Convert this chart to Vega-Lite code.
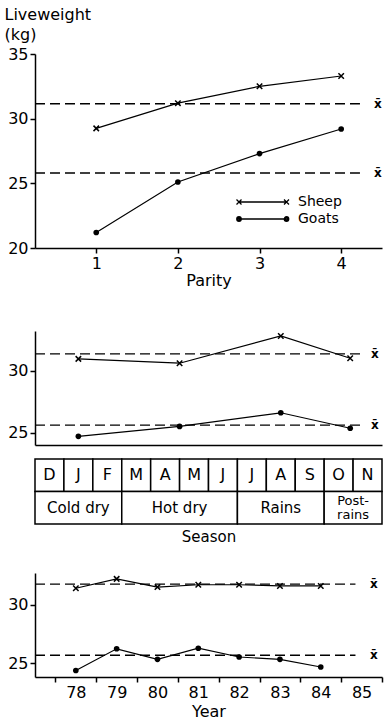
{
  "$schema": "https://vega.github.io/schema/vega-lite/v6.json",
  "padding": {"left": 4, "top": 6, "right": 8, "bottom": 4},
  "background": "white",
  "config": {
    "view": {"stroke": null},
    "font": "DejaVu Sans",
    "axis": {"domainColor": "black", "tickColor": "black", "labelColor": "black", "titleColor": "black", "labelFont": "DejaVu Sans", "titleFont": "DejaVu Sans", "labelFontSize": 16, "titleFontSize": 16, "titleFontWeight": "normal", "grid": false, "domainWidth": 1.5, "tickWidth": 1.5, "tickSize": 5, "labelPadding": 2},
    "legend": {"labelFont": "DejaVu Sans", "labelColor": "black"}
  },
  "datasets": {
    "parity": [
      {"species": "Sheep", "parity": 1, "weight": 29.25},
      {"species": "Sheep", "parity": 2, "weight": 31.2},
      {"species": "Sheep", "parity": 3, "weight": 32.5},
      {"species": "Sheep", "parity": 4, "weight": 33.3},
      {"species": "Goats", "parity": 1, "weight": 21.2},
      {"species": "Goats", "parity": 2, "weight": 25.1},
      {"species": "Goats", "parity": 3, "weight": 27.3},
      {"species": "Goats", "parity": 4, "weight": 29.2}
    ],
    "parityMean": [
      {"species": "Sheep", "mean": 31.15, "label": "x̄"},
      {"species": "Goats", "mean": 25.8, "label": "x̄"}
    ],
    "season": [
      {"species": "Sheep", "season": "Cold dry", "pos": 1.5, "weight": 30.95},
      {"species": "Sheep", "season": "Hot dry", "pos": 5, "weight": 30.6},
      {"species": "Sheep", "season": "Rains", "pos": 8.5, "weight": 32.8},
      {"species": "Sheep", "season": "Post-rains", "pos": 10.9, "weight": 31.0},
      {"species": "Goats", "season": "Cold dry", "pos": 1.5, "weight": 24.7},
      {"species": "Goats", "season": "Hot dry", "pos": 5, "weight": 25.5},
      {"species": "Goats", "season": "Rains", "pos": 8.5, "weight": 26.6},
      {"species": "Goats", "season": "Post-rains", "pos": 10.9, "weight": 25.35}
    ],
    "seasonMean": [
      {"species": "Sheep", "mean": 31.35, "label": "x̄"},
      {"species": "Goats", "mean": 25.6, "label": "x̄"}
    ],
    "year": [
      {"species": "Sheep", "year": 78, "weight": 31.4},
      {"species": "Sheep", "year": 79, "weight": 32.2},
      {"species": "Sheep", "year": 80, "weight": 31.5},
      {"species": "Sheep", "year": 81, "weight": 31.7},
      {"species": "Sheep", "year": 82, "weight": 31.7},
      {"species": "Sheep", "year": 83, "weight": 31.6},
      {"species": "Sheep", "year": 84, "weight": 31.6},
      {"species": "Goats", "year": 78, "weight": 24.4},
      {"species": "Goats", "year": 79, "weight": 26.25},
      {"species": "Goats", "year": 80, "weight": 25.35},
      {"species": "Goats", "year": 81, "weight": 26.3},
      {"species": "Goats", "year": 82, "weight": 25.55},
      {"species": "Goats", "year": 83, "weight": 25.35},
      {"species": "Goats", "year": 84, "weight": 24.7}
    ],
    "yearMean": [
      {"species": "Sheep", "mean": 31.75, "label": "x̄"},
      {"species": "Goats", "mean": 25.7, "label": "x̄"}
    ],
    "months": [
      {"row": "Month", "label": "D", "start": 0, "end": 1, "mid": 0.5},
      {"row": "Month", "label": "J", "start": 1, "end": 2, "mid": 1.5},
      {"row": "Month", "label": "F", "start": 2, "end": 3, "mid": 2.5},
      {"row": "Month", "label": "M", "start": 3, "end": 4, "mid": 3.5},
      {"row": "Month", "label": "A", "start": 4, "end": 5, "mid": 4.5},
      {"row": "Month", "label": "M", "start": 5, "end": 6, "mid": 5.5},
      {"row": "Month", "label": "J", "start": 6, "end": 7, "mid": 6.5},
      {"row": "Month", "label": "J", "start": 7, "end": 8, "mid": 7.5},
      {"row": "Month", "label": "A", "start": 8, "end": 9, "mid": 8.5},
      {"row": "Month", "label": "S", "start": 9, "end": 10, "mid": 9.5},
      {"row": "Month", "label": "O", "start": 10, "end": 11, "mid": 10.5},
      {"row": "Month", "label": "N", "start": 11, "end": 12, "mid": 11.5}
    ],
    "seasons": [
      {"row": "Season", "label": "Cold dry", "start": 0, "end": 3, "mid": 1.5},
      {"row": "Season", "label": "Hot dry", "start": 3, "end": 7, "mid": 5},
      {"row": "Season", "label": "Rains", "start": 7, "end": 10, "mid": 8.5},
      {"row": "Season", "label": "Post-\nrains", "start": 10, "end": 12, "mid": 11}
    ]
  },
  "spacing": 13,
  "resolve": {"scale": {"shape": "independent"}, "legend": {"shape": "independent"}},
  "vconcat": [
    {
      "width": 347,
      "height": 194,
      "layer": [
        {
          "data": {"name": "parity"},
          "mark": {"type": "line", "color": "black", "strokeWidth": 1.2},
          "encoding": {
            "x": {"field": "parity", "type": "quantitative", "scale": {"domain": [0.25, 4.5], "nice": false}, "axis": {"values": [1, 2, 3, 4], "format": "d", "title": "Parity", "titlePadding": 1, "labelPadding": 2}},
            "y": {"field": "weight", "type": "quantitative", "scale": {"domain": [20, 35], "nice": false, "zero": false}, "axis": {"values": [20, 25, 30, 35], "title": ["Liveweight", "  (kg)"], "titleAngle": 0, "titleAlign": "left", "titleBaseline": "top", "titleX": -31, "titleY": -48, "titleLineHeight": 20}},
            "detail": {"field": "species"}
          }
        },
        {
          "data": {"name": "parityMean"},
          "mark": {"type": "rule", "strokeDash": [10, 5], "strokeWidth": 1.4, "color": "black"},
          "encoding": {
            "y": {"field": "mean", "type": "quantitative"},
            "x": {"datum": 0.25, "type": "quantitative"},
            "x2": {"datum": 4.23}
          }
        },
        {
          "data": {"name": "parityMean"},
          "mark": {"type": "text", "fontSize": 12, "fontWeight": "bold", "color": "black", "align": "center", "baseline": "middle"},
          "encoding": {
            "y": {"field": "mean", "type": "quantitative"},
            "x": {"datum": 4.45, "type": "quantitative"},
            "text": {"field": "label"}
          }
        },
        {
          "data": {"name": "parity"},
          "transform": [{"filter": "datum.species === 'Sheep'"}],
          "mark": {"type": "point", "shape": "M-1,-1L1,1M-1,1L1,-1", "filled": false, "color": "black", "strokeWidth": 1.5, "size": 30, "opacity": 1},
          "encoding": {
            "x": {"field": "parity", "type": "quantitative"},
            "y": {"field": "weight", "type": "quantitative"}
          }
        },
        {
          "data": {"name": "parity"},
          "transform": [{"filter": "datum.species === 'Goats'"}],
          "mark": {"type": "point", "shape": "circle", "filled": true, "color": "black", "size": 32, "opacity": 1},
          "encoding": {
            "x": {"field": "parity", "type": "quantitative"},
            "y": {"field": "weight", "type": "quantitative"}
          }
        },
        {
          "data": {"name": "parity"},
          "transform": [{"filter": "datum.weight < 0"}],
          "mark": {"type": "point", "filled": false, "color": "black", "strokeWidth": 1.3, "size": 100, "opacity": 1},
          "encoding": {
            "x": {"field": "parity", "type": "quantitative"},
            "y": {"field": "weight", "type": "quantitative"},
            "shape": {
              "field": "species", "type": "nominal",
              "scale": {"domain": ["Sheep", "Goats"], "range": ["M-9,0L0.5,0M-9.5,-0.5L-8.5,0.5M-9.5,0.5L-8.5,-0.5M0,-0.5L1,0.5M0,0.5L1,-0.5", "M-9,0L0.5,0M-9.45,0A0.45,0.45 0 1,0 -8.55,0A0.45,0.45 0 1,0 -9.45,0ZM-9.2,0A0.2,0.2 0 1,0 -8.8,0A0.2,0.2 0 1,0 -9.2,0ZM0.05,0A0.45,0.45 0 1,0 0.95,0A0.45,0.45 0 1,0 0.05,0ZM0.3,0A0.2,0.2 0 1,0 0.7,0A0.2,0.2 0 1,0 0.3,0Z"]},
              "legend": {
                "title": null, "orient": "none", "legendX": 242, "legendY": 141, "padding": 0,
                "symbolSize": 100, "symbolStrokeWidth": 1.3, "symbolFillColor": "black", "symbolStrokeColor": "black",
                "labelFontSize": 14, "labelOffset": 7, "rowPadding": 3
              }
            }
          }
        }
      ]
    },
    {
      "width": 347,
      "height": 114,
      "title": {"text": " ", "fontSize": 1, "offset": 28},
      "layer": [
        {
          "data": {"name": "season"},
          "mark": {"type": "line", "color": "black", "strokeWidth": 1.2},
          "encoding": {
            "x": {"field": "pos", "type": "quantitative", "scale": {"domain": [0, 12], "nice": false}, "axis": {"ticks": false, "labels": false, "title": null}},
            "y": {"field": "weight", "type": "quantitative", "scale": {"domain": [24, 33.2], "nice": false, "zero": false}, "axis": {"values": [25, 30], "title": null}},
            "detail": {"field": "species"}
          }
        },
        {
          "data": {"name": "seasonMean"},
          "mark": {"type": "rule", "strokeDash": [10, 5], "strokeWidth": 1.4, "color": "black"},
          "encoding": {
            "y": {"field": "mean", "type": "quantitative"},
            "x": {"datum": 0, "type": "quantitative"},
            "x2": {"datum": 11.25}
          }
        },
        {
          "data": {"name": "seasonMean"},
          "mark": {"type": "text", "fontSize": 12, "fontWeight": "bold", "color": "black", "align": "center", "baseline": "middle"},
          "encoding": {
            "y": {"field": "mean", "type": "quantitative"},
            "x": {"datum": 11.75, "type": "quantitative"},
            "text": {"field": "label"}
          }
        },
        {
          "data": {"name": "season"},
          "transform": [{"filter": "datum.species === 'Sheep'"}],
          "mark": {"type": "point", "shape": "M-1,-1L1,1M-1,1L1,-1", "filled": false, "color": "black", "strokeWidth": 1.5, "size": 30, "opacity": 1},
          "encoding": {
            "x": {"field": "pos", "type": "quantitative"},
            "y": {"field": "weight", "type": "quantitative"}
          }
        },
        {
          "data": {"name": "season"},
          "transform": [{"filter": "datum.species === 'Goats'"}],
          "mark": {"type": "point", "shape": "circle", "filled": true, "color": "black", "size": 32, "opacity": 1},
          "encoding": {
            "x": {"field": "pos", "type": "quantitative"},
            "y": {"field": "weight", "type": "quantitative"}
          }
        }
      ]
    },
    {
      "width": 347,
      "height": 65,
      "layer": [
        {
          "data": {"name": "months"},
          "mark": {"type": "rect", "fill": "white", "stroke": "black", "strokeWidth": 1.5},
          "encoding": {
            "x": {"field": "start", "type": "quantitative", "scale": {"domain": [0, 12], "nice": false}, "axis": {"title": "Season", "titleFontSize": 15, "domain": false, "ticks": false, "labels": false, "titlePadding": 5}},
            "x2": {"field": "end"},
            "y": {"field": "row", "type": "nominal", "scale": {"domain": ["Month", "Season"], "paddingInner": 0, "paddingOuter": 0}, "axis": null}
          }
        },
        {
          "data": {"name": "months"},
          "mark": {"type": "text", "fontSize": 16, "color": "black", "align": "center", "baseline": "middle"},
          "encoding": {
            "x": {"field": "mid", "type": "quantitative"},
            "y": {"field": "row", "type": "nominal"},
            "text": {"field": "label"}
          }
        },
        {
          "data": {"name": "seasons"},
          "mark": {"type": "rect", "fill": "white", "stroke": "black", "strokeWidth": 1.5},
          "encoding": {
            "x": {"field": "start", "type": "quantitative"},
            "x2": {"field": "end"},
            "y": {"field": "row", "type": "nominal"}
          }
        },
        {
          "data": {"name": "seasons"},
          "transform": [{"filter": "datum.start < 10"}],
          "mark": {"type": "text", "fontSize": 15, "color": "black", "align": "center", "baseline": "middle"},
          "encoding": {
            "x": {"field": "mid", "type": "quantitative"},
            "y": {"field": "row", "type": "nominal"},
            "text": {"field": "label"}
          }
        },
        {
          "data": {"name": "seasons"},
          "transform": [{"filter": "datum.start >= 10"}],
          "mark": {"type": "text", "fontSize": 13, "color": "black", "align": "center", "baseline": "middle", "lineBreak": "\n", "lineHeight": 14, "dy": -7},
          "encoding": {
            "x": {"field": "mid", "type": "quantitative"},
            "y": {"field": "row", "type": "nominal"},
            "text": {"field": "label"}
          }
        }
      ]
    },
    {
      "width": 347,
      "height": 104,
      "title": {"text": " ", "fontSize": 1, "offset": 15},
      "layer": [
        {
          "data": {"name": "year"},
          "mark": {"type": "line", "color": "black", "strokeWidth": 1.2},
          "encoding": {
            "x": {"field": "year", "type": "quantitative", "scale": {"domain": [77, 85.5], "nice": false, "zero": false}, "axis": {"values": [77.5, 78.5, 79.5, 80.5, 81.5, 82.5, 83.5, 84.5, 85.5], "labelExpr": "datum.value < 85 ? '' + (datum.value + 0.5) : ''", "labelOffset": 20.4, "title": "Year", "titlePadding": 3, "labelPadding": 2}},
            "y": {"field": "weight", "type": "quantitative", "scale": {"domain": [23.85, 32.7], "nice": false, "zero": false}, "axis": {"values": [25, 30], "title": null}},
            "detail": {"field": "species"}
          }
        },
        {
          "data": {"name": "yearMean"},
          "mark": {"type": "rule", "strokeDash": [10, 5], "strokeWidth": 1.4, "color": "black"},
          "encoding": {
            "y": {"field": "mean", "type": "quantitative"},
            "x": {"datum": 77, "type": "quantitative"},
            "x2": {"datum": 84.85}
          }
        },
        {
          "data": {"name": "yearMean"},
          "mark": {"type": "text", "fontSize": 12, "fontWeight": "bold", "color": "black", "align": "center", "baseline": "middle"},
          "encoding": {
            "y": {"field": "mean", "type": "quantitative"},
            "x": {"datum": 85.3, "type": "quantitative"},
            "text": {"field": "label"}
          }
        },
        {
          "data": {"name": "year"},
          "transform": [{"filter": "datum.species === 'Sheep'"}],
          "mark": {"type": "point", "shape": "M-1,-1L1,1M-1,1L1,-1", "filled": false, "color": "black", "strokeWidth": 1.5, "size": 30, "opacity": 1},
          "encoding": {
            "x": {"field": "year", "type": "quantitative"},
            "y": {"field": "weight", "type": "quantitative"}
          }
        },
        {
          "data": {"name": "year"},
          "transform": [{"filter": "datum.species === 'Goats'"}],
          "mark": {"type": "point", "shape": "circle", "filled": true, "color": "black", "size": 32, "opacity": 1},
          "encoding": {
            "x": {"field": "year", "type": "quantitative"},
            "y": {"field": "weight", "type": "quantitative"}
          }
        }
      ]
    }
  ]
}
